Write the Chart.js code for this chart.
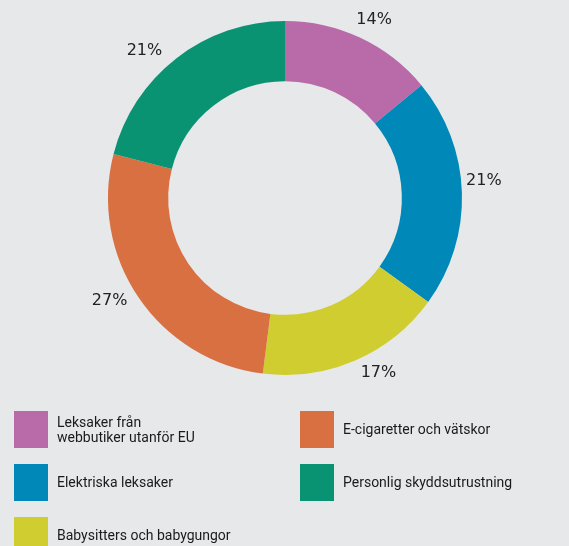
<!DOCTYPE html>
<html>
<head>
<meta charset="utf-8">
<script src="https://cdn.jsdelivr.net/npm/chart.js@4"></script>
<style>
  html, body { margin: 0; padding: 0; background: #e7e8ea; }
  #wrap { position: relative; width: 569px; height: 546px; overflow: hidden; }
  #chart { position: absolute; left: 0; top: 0; }
  #legend {
    position: absolute; left: 14px; top: 411px;
    display: grid; grid-auto-flow: column;
    grid-template-columns: 286px auto;
    grid-template-rows: repeat(3, 37px);
    row-gap: 16px;
    font-family: Roboto, "Open Sans", sans-serif; font-size: 14px; color: #1a1a1a;
  }
  .item { display: flex; align-items: center; }
  .box { width: 34px; height: 37px; margin-right: 9px; flex: none; }
  .txt { line-height: 15px; }
</style>
</head>
<body>
<div id="wrap">
  <canvas id="chart" width="569" height="546"></canvas>
  <div id="legend"></div>
</div>
<script>
// Categories and shares (%)
const categories = [
    ['Leksaker från', 'webbutiker utanför EU'],
    ['Elektriska leksaker'],
    ['Babysitters och babygungor'],
    ['E-cigaretter och vätskor'],
    ['Personlig skyddsutrustning']
];
const shares = [14, 21, 17, 27, 21];
const colors = ['#b96aa9', '#0088b9', '#cfcd2f', '#d87042', '#0a9373'];

// small nudges so the labels sit where the original put them
const labelNudge = [[4, 3], [-1, -11], [14, -9], [-10, -10], [-18, 11]];

// Draw the percentage next to each slice
const sliceLabels = {
    id: 'sliceLabels',
    afterDatasetsDraw(chart) {
        const ctx = chart.ctx;
        const meta = chart.getDatasetMeta(0);
        ctx.save();
        ctx.font = '16px "DejaVu Sans"';
        ctx.fillStyle = '#222';
        ctx.textAlign = 'center';
        ctx.textBaseline = 'middle';
        meta.data.forEach((arc, i) => {
            const p = arc.getProps(['x', 'y', 'startAngle', 'endAngle', 'outerRadius'], true);
            const mid = (p.startAngle + p.endAngle) / 2;
            const r = p.outerRadius + 23;
            const x = p.x + Math.cos(mid) * r + labelNudge[i][0];
            const y = p.y + Math.sin(mid) * r + labelNudge[i][1];
            ctx.fillText(shares[i] + '%', x, y);
        });
        ctx.restore();
    }
};

const ctx = document.getElementById('chart').getContext('2d');
new Chart(ctx, {
    type: 'doughnut',
    data: {
        labels: categories.map(c => c.join(' ')),
        datasets: [{
            data: shares,
            backgroundColor: colors,
            borderWidth: 0
        }]
    },
    options: {
        responsive: false,
        animation: false,
        cutout: '66%',
        layout: { padding: { left: 108, right: 107, top: 21, bottom: 171 } },
        plugins: {
            legend: { display: false },
            tooltip: { enabled: false }
        }
    },
    plugins: [sliceLabels]
});

// Legend, filled column by column
const legend = document.getElementById('legend');
categories.forEach((c, i) => {
    const item = document.createElement('div');
    item.className = 'item';
    item.innerHTML = '<div class="box" style="background:' + colors[i] + '"></div><div class="txt">' + c.join('<br>') + '</div>';
    legend.appendChild(item);
});
</script>
</body>
</html>
